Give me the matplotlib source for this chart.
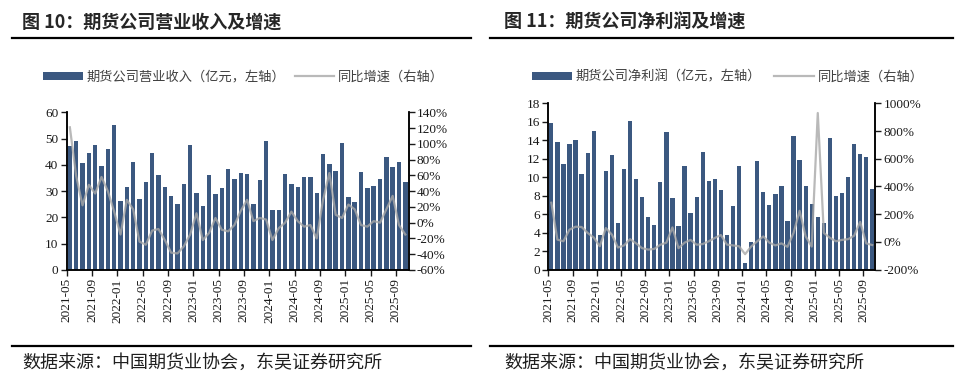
import numpy as np
import pandas as pd
import matplotlib
matplotlib.use("Agg")
import matplotlib.pyplot as plt
from matplotlib.lines import Line2D
from matplotlib.ticker import PercentFormatter

plt.rcParams['font.family'] = ['Noto Sans CJK SC', 'DejaVu Sans']
plt.rcParams['axes.unicode_minus'] = False

# months 2021-05 .. 2025-10
months = list(pd.period_range('2021-05', '2025-10', freq='M').strftime('%Y-%m'))

# 营业收入 (亿元)
revenue = [47.2, 49.0, 40.6, 44.7, 47.4, 39.4, 46.1, 55.1,
           26.3, 31.6, 41.1, 26.9, 33.3, 44.6, 36.3, 31.4, 28.0, 25.0, 32.6, 47.4,
           29.4, 24.2, 36.0, 28.8, 31.3, 38.5, 34.7, 37.0, 36.5, 25.0, 34.3, 49.0,
           22.8, 22.8, 36.7, 32.9, 31.5, 35.5, 35.5, 29.3, 44.0, 40.5, 37.7, 48.5,
           27.9, 25.8, 37.3, 31.1, 32.0, 34.6, 43.1, 39.0, 41.0, 33.5]
revenue_yoy = [121, 59, 22, 48, 37, 58, 40, 14,
               -15, 29, 17, -24, -28, -10, -8, -22, -38, -39, -30, -15,
               12, -22, -13, 6, -9, -11, -3, 15, 29, 2, 6, 4,
               -22, -7, 0, 14, 2, -5, -3, -20, 29, 63, 10, 6,
               23, 17, -3, -5, 2, 0, 17, 34, -3, -15]

# 净利润 (亿元)
profit = [15.9, 13.8, 11.4, 13.6, 14.0, 10.3, 12.6, 15.0,
          3.8, 10.7, 12.4, 5.0, 10.9, 16.1, 9.8, 7.9, 5.7, 4.8, 9.5, 14.9,
          7.8, 4.7, 11.2, 6.1, 7.9, 12.7, 9.6, 9.8, 8.6, 3.7, 6.9, 11.2,
          0.7, 3.0, 11.8, 8.4, 7.0, 8.2, 9.1, 5.3, 14.5, 11.9, 9.1, 7.1,
          5.7, 5.1, 14.3, 8.0, 8.3, 10.0, 13.6, 12.5, 12.2, 8.7]
profit_yoy = [283, 17, 5, 89, 110, 108, 65, 32,
              -31, 100, 53, -40, -25, 20, -10, -45, -55, -50, -20, -5,
              105, -45, -5, 15, -20, -15, 5, 29, 50, -19, -25, -31,
              -88, -33, 5, 40, -5, -25, -10, -35, 65, 225, 40, -33,
              930, 65, 30, 5, 15, 20, 45, 145, -10, -22]

BAR_COLOR = '#3b5880'
LINE_COLOR = '#a8a8a8'
W, H = 966, 387


def fx(px):
    return px / W


def fy(py):
    return 1 - py / H


fig = plt.figure(figsize=(W / 100, H / 100), dpi=100)


def draw_panel(box, bars, yoy, bar_label, ylim, yticks, ylim2, yticks2,
               title, title_x, rule_x, legend_x, col_space):
    l, r, t, b = box
    ax = fig.add_axes([fx(l), fy(b), (r - l) / W, (b - t) / H])
    x = np.arange(len(months))
    bc = ax.bar(x, bars, width=0.7, color=BAR_COLOR, zorder=2)
    ax.set_xlim(-0.5, len(months) - 0.5)
    ax.set_ylim(*ylim)
    ax.set_yticks(yticks)
    ticks = np.arange(0, len(months), 4)
    ax.set_xticks(ticks - 0.5, [months[i] for i in ticks], rotation=90)

    ax2 = ax.twinx()
    ln, = ax2.plot(x, yoy, color=LINE_COLOR, lw=1.6, alpha=0.8, zorder=3)
    ax2.set_ylim(*ylim2)
    ax2.set_yticks(yticks2)
    ax2.yaxis.set_major_formatter(PercentFormatter(100, decimals=0))

    for a in (ax, ax2):
        a.spines['top'].set_visible(False)
        for s in ('left', 'right', 'bottom'):
            a.spines[s].set_linewidth(1.1)
        a.tick_params(labelsize=9.5, labelfontfamily='Liberation Serif',
                      length=4, width=1.0, pad=2, colors='#1a1a1a')

    # title and rules
    fig.text(fx(title_x), fy(22), title, fontsize=13, fontweight='bold',
             va='center', color='#262626')
    fig.add_artist(Line2D([fx(rule_x[0]), fx(rule_x[1])], [fy(38), fy(38)],
                          color='black', lw=1.6))
    fig.add_artist(Line2D([fx(rule_x[0]), fx(rule_x[1])], [fy(346), fy(346)],
                          color='black', lw=1.6))
    fig.text(fx(title_x), fy(363), '数据来源：中国期货业协会，东吴证券研究所',
             fontsize=13, va='center', color='#1f1f1f')

    fig.legend([bc, ln], [bar_label, '同比增速（右轴）'], loc='center left',
               bbox_to_anchor=(fx(legend_x), fy(77)), ncol=2, frameon=False,
               fontsize=9.5, handlelength=3.0, handleheight=0.6,
               handletextpad=0.3, columnspacing=col_space,
               borderpad=0, borderaxespad=0, labelcolor='#404040')
    return ax, ax2


draw_panel((66.7, 408.5, 112.3, 270), revenue, revenue_yoy,
           '期货公司营业收入（亿元，左轴）',
           (0, 60), np.arange(0, 61, 10), (-60, 140), np.arange(-60, 141, 20),
           '图 10：期货公司营业收入及增速', 22, (12, 471), 43, 0.7)

draw_panel((548.3, 875.3, 103.3, 269.7), profit, profit_yoy,
           '期货公司净利润（亿元，左轴）',
           (0, 18), np.arange(0, 19, 2), (-200, 1000), np.arange(-200, 1001, 200),
           '图 11：期货公司净利润及增速', 504, (490, 953), 532, 1.0)

fig.savefig('out.png', dpi=100)
